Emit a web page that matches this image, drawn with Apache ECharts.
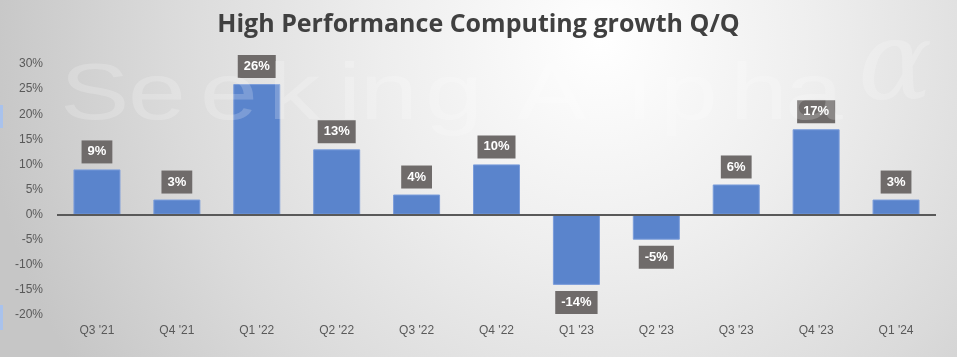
<!DOCTYPE html>
<html><head><meta charset="utf-8">
<script src="https://cdn.jsdelivr.net/npm/echarts@6/dist/echarts.min.js"></script>
<style>html,body{margin:0;padding:0;}#c{width:957px;height:357px;}</style>
</head><body><div id="c"></div>
<script>
const categories = ["Q3 '21","Q4 '21","Q1 '22","Q2 '22","Q3 '22","Q4 '22","Q1 '23","Q2 '23","Q3 '23","Q4 '23","Q1 '24"];
const growth = [9, 3, 26, 13, 4, 10, -14, -5, 6, 17, 3];
const titleText = "High Performance Computing growth Q/Q";
const watermarkChars = ['S','e','e','k','i','n','g','A','l','p','h','a'];
const watermarkX = [60, 128, 200, 268, 338, 360, 425, 517, 628, 660, 730, 785];

const chart = echarts.init(document.getElementById('c'));
const barData = growth.map(v => ({value: v, label: {position: v < 0 ? 'bottom' : 'top'}}));
const wmFill = 'rgba(255,255,255,0.2)';
const wm = watermarkChars.map((ch, i) => ({
  type: 'text', z: 100, silent: true, x: watermarkX[i], y: 97, scaleX: 1.3,
  style: {text: ch, font: '80px "Liberation Sans"', fill: wmFill, verticalAlign: 'middle'}
}));
chart.setOption({
  animation: false,
  title: {
    text: titleText, left: 'center', top: 7,
    textStyle: {fontFamily: 'Open Sans', fontWeight: 'bold', fontSize: 25, color: '#404040'}
  },
  graphic: [
    {type: 'rect', z: -10, silent: true, shape: {x: 0, y: 0, width: 957, height: 357},
     style: {fill: new echarts.graphic.RadialGradient(600, 40, 620, [
       {offset: 0, color: '#ffffff'}, {offset: 0.35, color: '#eeeeee'}, {offset: 0.7, color: '#dadada'}, {offset: 1, color: '#c6c6c6'}], true)}},
    ...wm,
    {type: 'text', z: 100, silent: true, x: 858, y: 70,
     style: {text: 'α', font: 'italic 110px "DejaVu Serif"', fill: wmFill, verticalAlign: 'middle'}},
    {type: 'rect', silent: true, shape: {x: 0, y: 105, width: 3, height: 23}, style: {fill: '#a9c2ec'}},
    {type: 'rect', silent: true, shape: {x: 0, y: 305, width: 3, height: 25}, style: {fill: '#a9c2ec'}}
  ],
  grid: {left: 57, right: 21, top: 64, bottom: 42, containLabel: false},
  xAxis: {
    type: 'category', data: categories,
    axisLine: {show: false}, axisTick: {show: false},
    axisLabel: {color: '#595959', fontFamily: 'Liberation Sans', fontSize: 12, margin: 10}
  },
  yAxis: {
    type: 'value', min: -20, max: 30, interval: 5,
    splitLine: {show: false}, axisLine: {show: false}, axisTick: {show: false},
    axisLabel: {formatter: '{value}%', color: '#595959', fontFamily: 'Liberation Sans', fontSize: 12, margin: 14}
  },
  series: [{
    type: 'bar', data: barData, barWidth: 47,
    itemStyle: {color: '#5a84cc', borderColor: '#7b9ddb', borderWidth: 1},
    label: {
      show: true, formatter: '{c}%',
      color: '#fff', fontWeight: 'bold', fontFamily: 'Liberation Sans', fontSize: 13,
      backgroundColor: '#6f6b6a', padding: [5, 6, 5, 6], distance: 6
    },
    markLine: {
      silent: true, symbol: 'none', label: {show: false},
      lineStyle: {color: '#595959', width: 2, type: 'solid'},
      data: [{yAxis: 0}]
    }
  }]
});
</script></body></html>
